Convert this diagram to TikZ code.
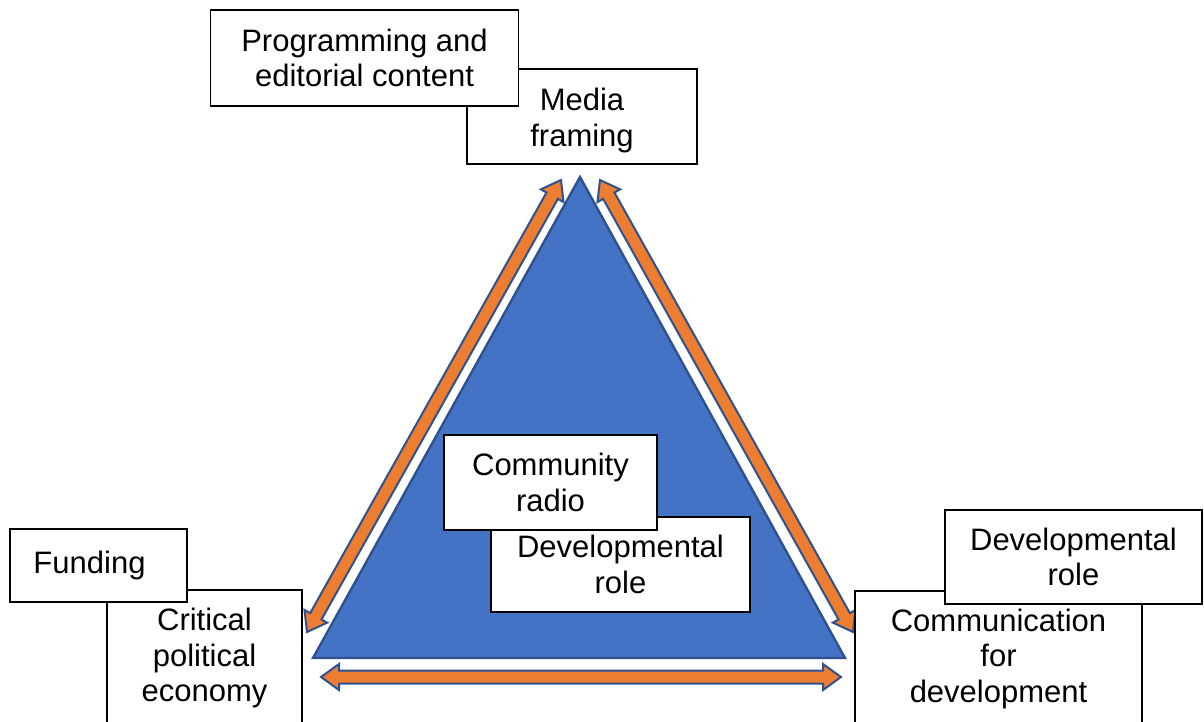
\documentclass[tikz,border=0pt]{standalone}
\usepackage{fontspec}
\setmainfont{Liberation Sans}
\usetikzlibrary{calc}

\definecolor{triblue}{HTML}{4472C4}
\definecolor{edgeblue}{HTML}{2F528F}
\definecolor{arroworange}{HTML}{ED7D31}

% geometry of the block arrows
\def\ahl{18pt}  % head length
\def\ahw{13pt}  % head half width
\def\asw{6.5pt} % shaft half width

% double-headed block arrow between two named coordinates
\newcommand{\dblarrow}[2]{%
  \draw[blockarrow] (#1)
    -- ($(#1)!\ahl!(#2)!\ahw!90:(#2)$)
    -- ($(#1)!\ahl!(#2)!\asw!90:(#2)$)
    -- ($(#2)!\ahl!(#1)!\asw!-90:(#1)$)
    -- ($(#2)!\ahl!(#1)!\ahw!-90:(#1)$)
    -- (#2)
    -- ($(#2)!\ahl!(#1)!\ahw!90:(#1)$)
    -- ($(#2)!\ahl!(#1)!\asw!90:(#1)$)
    -- ($(#1)!\ahl!(#2)!\asw!-90:(#2)$)
    -- ($(#1)!\ahl!(#2)!\ahw!-90:(#2)$)
    -- cycle;}

\tikzset{
  boxtext/.style={align=center, inner sep=0pt,
    font=\fontsize{31}{35.5}\selectfont},
  box/.style={boxtext, draw=black, line width=1.5pt, fill=white,
    outer sep=0pt},
  blockarrow/.style={fill=arroworange, draw=edgeblue, line width=2pt,
    line join=miter},
  tri/.style={fill=triblue, draw=edgeblue, line width=2.4pt, line join=miter}
}

\begin{document}
\begin{tikzpicture}[x=1pt, y=-1pt]
\useasboundingbox (0,0) rectangle (1204,721);

% central triangle
\coordinate (apex) at (580,177);
\coordinate (bl) at (313,658);
\coordinate (br) at (845,658);
\draw[tri] (apex) -- (br) -- (bl) -- cycle;

% arrows along the three sides
\coordinate (la1) at (561,180);
\coordinate (la2) at (307,632);
\coordinate (ra1) at (600,180);
\coordinate (ra2) at (853,632);
\coordinate (ba1) at (321,677);
\coordinate (ba2) at (841,677);
\dblarrow{la1}{la2}
\dblarrow{ra1}{ra2}
\dblarrow{ba1}{ba2}

% top corner
\node[box, minimum width=230pt, minimum height=95pt] (media) at (582,116.5) {};
\node[boxtext] (mediatext) at ($(media.center)+(0,4)$) {Media\\framing};
\node[box, minimum width=308pt, minimum height=96pt] (prog) at (364.5,58)
  {Programming and\\editorial content};

% left corner
\node[box, minimum width=195pt, minimum height=136pt] (cpe) at (204.5,658)
  {Critical\\political\\economy};
\node[box, minimum width=177pt, minimum height=73pt] (fund) at (98.5,565.5)
  {Funding\hspace*{18pt}};

% centre
\node[box, minimum width=259pt, minimum height=95pt] (devc) at (620.5,564.5)
  {Developmental\\role};
\node[box, minimum width=213pt, minimum height=95pt] (comr) at (550.5,482.5)
  {Community\\radio};

% right corner
\node[box, minimum width=287pt, minimum height=135pt] (c4d) at (998.5,658.5)
  {Communication\\for\\development};
\node[box, minimum width=257pt, minimum height=94pt] (devr) at (1073.5,557)
  {Developmental\\role};
\end{tikzpicture}
\end{document}
